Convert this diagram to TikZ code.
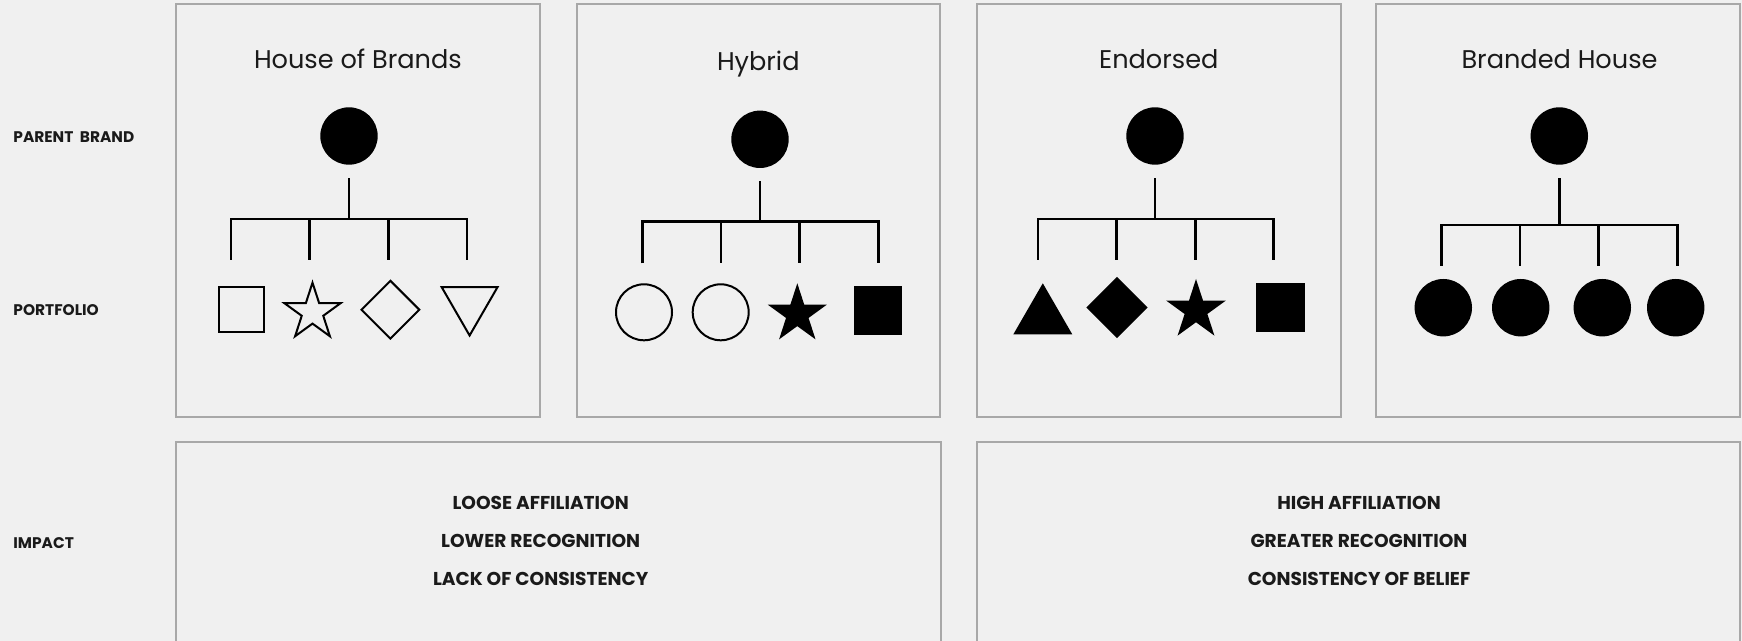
\documentclass[tikz,border=0pt]{standalone}
\usepackage{fontspec}
\setmainfont{Poppins}
\usetikzlibrary{shapes.geometric}
\definecolor{bg}{HTML}{F0F0F0}
\definecolor{frame}{HTML}{A8A8A8}
\definecolor{ink}{HTML}{1A1A1A}
\begin{document}
\begin{tikzpicture}[x=0.5pt,y=-0.5pt,
  panel/.style={draw=frame, line width=1pt},
  title/.style={font=\fontsize{12.8}{15}\selectfont, text=ink, anchor=base, inner sep=0},
  rowlabel/.style={font=\bfseries\fontsize{7.7}{9}\selectfont, text=ink, anchor=base west, inner sep=0},
  impact/.style={font=\bfseries\fontsize{9.3}{11}\selectfont, text=ink, anchor=base, inner sep=0},
  link/.style={line width=1.3pt, draw=black, line join=miter},
  parent/.style={circle, fill=black, minimum size=28.7pt, inner sep=0},
  ocirc/.style={circle, draw=black, line width=1pt, minimum size=#1, inner sep=0},
  fcirc/.style={circle, fill=black, minimum size=#1, inner sep=0},
  osq/.style={rectangle, draw=black, line width=1pt, minimum size=#1, inner sep=0},
  fsq/.style={rectangle, fill=black, minimum size=#1, inner sep=0},
  ostar/.style={star, star points=5, star point ratio=2.618, draw=black, line width=1pt, minimum size=#1, inner sep=0},
  fstar/.style={star, star points=5, star point ratio=2.618, fill=black, minimum size=#1, inner sep=0},
  odiam/.style={diamond, draw=black, line width=1pt, minimum width=#1, minimum height=#1, inner sep=0},
  fdiam/.style={diamond, fill=black, minimum width=#1, minimum height=#1, inner sep=0},
  otri/.style={regular polygon, regular polygon sides=3, draw=black, line width=1pt, minimum size=#1, inner sep=0},
  ftri/.style={regular polygon, regular polygon sides=3, fill=black, minimum size=#1, inner sep=0},
]
\fill[bg] (0,0) rectangle (1742,641);
\useasboundingbox (0,0) rectangle (1742,641);
\clip (0,0) rectangle (1742,641);

% panels
\draw[panel] (176,4.3) rectangle (540.4,417);
\draw[panel] (576.7,4.3) rectangle (940.3,417);
\draw[panel] (977.3,4.3) rectangle (1341,417);
\draw[panel] (1375.7,4.3) rectangle (1740,417);
\draw[panel] (176.3,442.3) rectangle (941,700);
\draw[panel] (976.5,442.3) rectangle (1740,700);

% row labels
\node[rowlabel] (lp) at (13,142.7) {PARENT~~BRAND};
\node[rowlabel] (lf) at (13,316) {PORTFOLIO};
\node[rowlabel] (li) at (13,548.7) {IMPACT};

% titles
\node[title] (t1) at (357.9,68.3) {House of Brands};
\node[title] (t2) at (758.3,71) {Hybrid};
\node[title] (t3) at (1158.8,68.3) {Endorsed};
\node[title] (t4) at (1559.5,68.3) {Branded House};

% ---- House of Brands
\node[parent] (p1) at (349,136) {};
\coordinate (s1) at ([yshift=-6.5pt]p1.south);
\coordinate (j1) at (349,219);
\coordinate (d11) at (231,260);
\coordinate (d12) at (309.6,260);
\coordinate (d13) at (388.2,260);
\coordinate (d14) at (466.8,260);
\draw[link] (s1) -- (j1);
\draw[link] (d11) -- (d11 |- j1) -- (d14 |- j1) -- (d14);
\draw[link] (d12 |- j1) -- (d12);
\draw[link] (d13 |- j1) -- (d13);
\node[osq=22.75pt] (c11) at (241.4,309.5) {};
\node[ostar=29.6pt] (c12) at (312.5,312.3) {};
\node[odiam=29.3pt] (c13) at (390.4,309.7) {};
\node[otri=32.3pt, shape border rotate=180] (c14) at (469.6,303.2) {};

% ---- Hybrid
\node[parent] (p2) at (760,139.3) {};
\coordinate (s2) at ([yshift=-6.5pt]p2.south);
\coordinate (j2) at (760,221.7);
\coordinate (d21) at (642.3,263.3);
\coordinate (d22) at (721,263.3);
\coordinate (d23) at (799.3,263.3);
\coordinate (d24) at (878.3,263.3);
\draw[link] (s2) -- (j2);
\draw[link] (d21) -- (d21 |- j2) -- (d24 |- j2) -- (d24);
\draw[link] (d22 |- j2) -- (d22);
\draw[link] (d23 |- j2) -- (d23);
\node[ocirc=28pt] (c21) at (644,312.3) {};
\node[ocirc=28pt] (c22) at (720.7,312.3) {};
\node[fstar=31pt] (c23) at (797.3,314.3) {};
\node[fsq=24.3pt] (c24) at (878,310.8) {};

% ---- Endorsed
\node[parent] (p3) at (1155,136) {};
\coordinate (s3) at ([yshift=-6.5pt]p3.south);
\coordinate (j3) at (1155,219);
\coordinate (d31) at (1038,260);
\coordinate (d32) at (1116.7,260);
\coordinate (d33) at (1195.3,260);
\coordinate (d34) at (1273.7,260);
\draw[link] (s3) -- (j3);
\draw[link] (d31) -- (d31 |- j3) -- (d34 |- j3) -- (d34);
\draw[link] (d32 |- j3) -- (d32);
\draw[link] (d33 |- j3) -- (d33);
\node[ftri=34pt] (c31) at (1042.8,317.3) {};
\node[fdiam=30.75pt] (c32) at (1117,307.5) {};
\node[fstar=31.3pt] (c33) at (1196,310.3) {};
\node[fsq=24.5pt] (c34) at (1280.8,307.7) {};

% ---- Branded House
\node[parent] (p4) at (1559.3,136) {};
\coordinate (s4) at ([yshift=-6.5pt]p4.south);
\coordinate (j4) at (1559.3,225);
\coordinate (d41) at (1441.3,266);
\coordinate (d42) at (1520,266);
\coordinate (d43) at (1598.7,266);
\coordinate (d44) at (1677.3,266);
\draw[link] (s4) -- (j4);
\draw[link] (d41) -- (d41 |- j4) -- (d44 |- j4) -- (d44);
\draw[link] (d42 |- j4) -- (d42);
\draw[link] (d43 |- j4) -- (d43);
\node[fcirc=28.7pt] (c41) at (1443.3,307.7) {};
\node[fcirc=28.7pt] (c42) at (1520.7,307.7) {};
\node[fcirc=28.7pt] (c43) at (1602.3,307.7) {};
\node[fcirc=28.7pt] (c44) at (1675.7,307.7) {};

% impact texts
\node[impact] (a1) at (540.7,510) {LOOSE AFFILIATION};
\node[impact] (a2) at (540.7,548) {LOWER RECOGNITION};
\node[impact] (a3) at (540.7,586) {LACK OF CONSISTENCY};
\node[impact] (b1) at (1359,510) {HIGH AFFILIATION};
\node[impact] (b2) at (1359,548) {GREATER RECOGNITION};
\node[impact] (b3) at (1359,586) {CONSISTENCY OF BELIEF};
\end{tikzpicture}
\end{document}
